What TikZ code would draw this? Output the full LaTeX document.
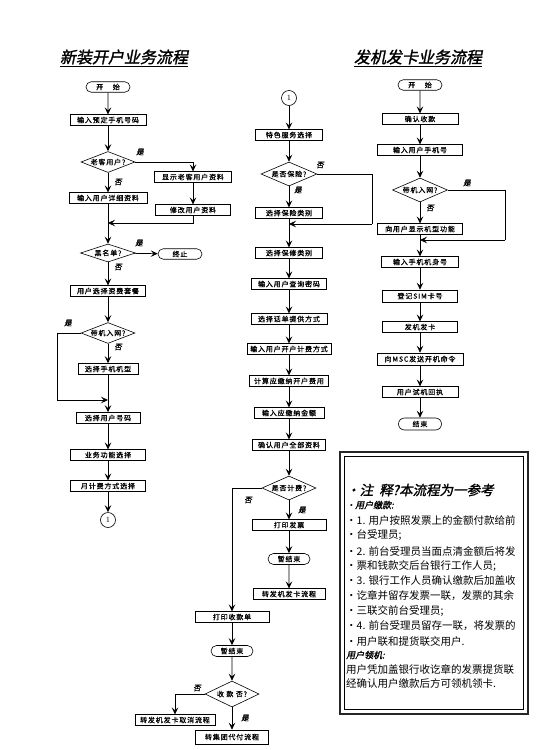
\documentclass[tikz,border=0pt]{standalone}
\usepackage{fontspec}
\newfontfamily\cjk{Noto Sans CJK SC}
\newfontfamily\cjkb[LetterSpace=12,FakeBold=0.8]{Noto Sans CJK SC}
\newfontfamily\cjkt[FakeSlant=0.2,FakeBold=1.5]{Noto Sans CJK SC}
\usetikzlibrary{shapes.geometric,shapes.misc,arrows.meta}
\begin{document}
\begin{tikzpicture}[x=1pt,y=-1pt,
  bx/.style={draw, line width=0.6pt, minimum height=10.5pt, inner sep=0pt, font=\cjkb\fontsize{7}{8}\selectfont},
  term/.style={draw, line width=0.6pt, rounded rectangle, minimum height=10.5pt, inner sep=0pt, font=\cjkb\fontsize{7}{8}\selectfont},
  dec/.style={draw, line width=0.6pt, diamond, aspect=2.4, inner sep=0pt, font=\cjkb\fontsize{7}{8}\selectfont},
  conn/.style={draw, circle, line width=0.6pt, minimum size=15pt, inner sep=0pt, font=\fontsize{8}{9}\selectfont},
  arr/.style={line width=0.7pt, -{Stealth[length=7pt,width=6.5pt,inset=2.8pt]}},
  ln/.style={line width=0.7pt},
  lbl/.style={font=\cjkt\fontsize{7.5}{8}\selectfont, inner sep=0pt},
  ttl/.style={font=\cjkt\fontsize{16}{18}\selectfont, inner sep=0pt},
  nt/.style={anchor=west, inner sep=0pt, font=\cjk\fontsize{10.5}{12}\selectfont},
]
\useasboundingbox (0,0) rectangle (555,750);
\fill[white] (0,0) rectangle (555,750);

% titles
\node[ttl] (t1) at (124,57) {新装开户业务流程};
\draw[ln] ([yshift=-2pt]t1.south west) -- ([yshift=-2pt]t1.south east);
\node[ttl] (t2) at (418,57) {发机发卡业务流程};
\draw[ln] ([yshift=-2pt]t2.south west) -- ([yshift=-2pt]t2.south east);

% ---------------- left column ----------------
\node[term, minimum width=44pt] (L0) at (108,87) {开\ \ \ \ 始};
\node[bx, minimum width=76pt] (L1) at (108,120) {输入预定手机号码};
\node[dec, minimum width=54pt, minimum height=20pt] (Ld1) at (108,162) {老客用户?};
\node[bx, minimum width=77pt] (L2) at (193,177) {显示老客用户资料};
\node[bx, minimum width=75pt] (L3) at (193,210) {修改用户资料};
\node[bx, minimum width=78pt] (L4) at (108,198) {输入用户详细资料};
\node[dec, minimum width=55pt, minimum height=18pt] (Ld2) at (108,253) {黑名单?};
\node[term, minimum width=44pt] (Lend) at (180,254) {终止};
\node[bx, minimum width=75pt] (L5) at (108,291) {用户选择资费套餐};
\node[dec, minimum width=54pt, minimum height=20pt] (Ld3) at (108,333) {带机入网?};
\node[bx, minimum width=60pt, minimum height=11pt] (L6) at (108,369) {选择手机机型};
\node[bx, minimum width=64pt, minimum height=11pt] (L7) at (108,418) {选择用户号码};
\node[bx, minimum width=75pt] (L8) at (108,455) {业务功能选择};
\node[bx, minimum width=75pt] (L9) at (108,486) {月计费方式选择};
\node[conn] (Lc) at (108,520) {1};

\coordinate (La) at (108,223);
\coordinate (Lb) at (108,400);
\draw[arr] (L0) -- (L1);
\draw[arr] (L1) -- (Ld1);
\draw[arr] (Ld1.east) -| (L2.north);
\draw[arr] (L2) -- (L3);
\draw[arr] (L3.south) |- (La);
\draw[arr] (Ld1) -- (L4);
\draw[arr] (L4) -- (Ld2);
\draw[arr] (Ld2) -- (Lend);
\draw[arr] (Ld2) -- (L5);
\draw[arr] (L5) -- (Ld3);
\draw[arr] (Ld3) -- (L6);
\draw[arr] (Ld3.west) -- (57,333) |- (Lb);
\draw[arr] (L6) -- (L7);
\draw[arr] (L7) -- (L8);
\draw[arr] (L8) -- (L9);
\draw[arr] (L9) -- (Lc);
\node[lbl] (l1) at (140,152) {是};
\node[lbl] (l2) at (118,182) {否};
\node[lbl] (l3) at (139,243) {是};
\node[lbl] (l4) at (118,267) {否};
\node[lbl] (l5) at (68,323) {是};
\node[lbl] (l6) at (118,347) {否};

% ---------------- middle column ----------------
\node[conn] (Mc) at (289,98) {1};
\node[bx, minimum width=67pt] (M1) at (289,135) {特色服务选择};
\node[dec, minimum width=56pt, minimum height=24pt] (Md1) at (289,174) {是否保险?};
\node[bx, minimum width=67pt] (M2) at (289,213) {选择保险类别};
\node[bx, minimum width=67pt] (M3) at (289,253) {选择保修类别};
\node[bx, minimum width=75pt] (M4) at (289,284) {输入用户查询密码};
\node[bx, minimum width=76pt] (M5) at (289,319) {选择话单提供方式};
\node[bx, minimum width=84pt] (M6) at (289,349) {输入用户开户计费方式};
\node[bx, minimum width=79pt] (M7) at (289,381) {计算应缴纳开户费用};
\node[bx, minimum width=70pt] (M8) at (289,413) {输入应缴纳金额};
\node[bx, minimum width=73pt] (M9) at (289,445) {确认用户全部资料};
\node[dec, minimum width=54pt, minimum height=24pt] (Md2) at (289,488) {是否计费?};
\node[bx, minimum width=74pt] (M10) at (289,525) {打印发票};
\node[term, minimum width=42pt, minimum height=11pt] (M11) at (289,559) {暂结束};
\node[bx, minimum width=72pt] (M12) at (289,594) {转发机发卡流程};
\node[bx, minimum width=74pt] (M13) at (232,617) {打印收款单};
\node[term, minimum width=42pt, minimum height=11pt] (M14) at (232,651) {暂结束};
\node[dec, minimum width=54pt, minimum height=26pt] (Md3) at (232,694) {收\ 款\ 否?};
\node[bx, minimum width=80pt] (M15) at (175,720) {转发机发卡取消流程};
\node[bx, minimum width=73pt, minimum height=14pt] (M16) at (232,737) {转集团代付流程};

\coordinate (Ma) at (289,224);
\draw[arr] (Mc) -- (M1);
\draw[arr] (M1) -- (Md1);
\draw[arr] (Md1) -- (M2);
\draw[ln] (Md1.east) -- (372,174) -- (372,224);
\draw[arr] (372,224) -- (Ma);
\draw[arr] (M2) -- (M3);
\draw[arr] (M3) -- (M4);
\draw[arr] (M4) -- (M5);
\draw[arr] (M5) -- (M6);
\draw[arr] (M6) -- (M7);
\draw[arr] (M7) -- (M8);
\draw[arr] (M8) -- (M9);
\draw[arr] (M9) -- (Md2);
\draw[arr] (Md2) -- (M10);
\draw[arr] (Md2.west) -| (M13.north);
\draw[arr] (M10) -- (M11);
\draw[arr] (M11) -- (M12);
\draw[arr] (M13) -- (M14);
\draw[arr] (M14) -- (Md3);
\draw[arr] (Md3.west) -| (M15.north);
\draw[arr] (Md3) -- (M16);
\node[lbl] (m1) at (320,165) {否};
\node[lbl] (m2) at (298,190) {是};
\node[lbl] (m3) at (248,500) {否};
\node[lbl] (m4) at (302,510) {是};
\node[lbl] (m5) at (197,688) {否};
\node[lbl] (m6) at (245,718) {是};

% ---------------- right column ----------------
\node[term, minimum width=44pt] (R0) at (420,85) {开\ \ \ \ 始};
\node[bx, minimum width=76pt] (R1) at (420,119) {确认收款};
\node[bx, minimum width=85pt] (R2) at (420,150) {输入用户手机号};
\node[dec, minimum width=55pt, minimum height=24pt] (Rd) at (420,190) {带机入网?};
\node[bx, minimum width=85pt] (R3) at (420,229) {向用户显示机型功能};
\node[bx, minimum width=77pt] (R4) at (420,262) {输入手机机身号};
\node[bx, minimum width=75pt, minimum height=12pt] (R5) at (420,296) {登记SIM卡号};
\node[bx, minimum width=75pt] (R6) at (420,327) {发机发卡};
\node[bx, minimum width=86pt, minimum height=12pt] (R7) at (420,359) {向MSC发送开机命令};
\node[bx, minimum width=76pt] (R8) at (420,392) {用户试机回执};
\node[term, minimum width=43pt, minimum height=12pt] (Rend) at (420,424) {结束};

\coordinate (Ra) at (420,240);
\draw[arr] (R0) -- (R1);
\draw[arr] (R1) -- (R2);
\draw[arr] (R2) -- (Rd);
\draw[arr] (Rd) -- (R3);
\draw[ln] (Rd.east) -- (505,190) -- (505,240);
\draw[arr] (505,240) -- (Ra);
\draw[arr] (R3) -- (R4);
\draw[arr] (R4) -- (R5);
\draw[arr] (R5) -- (R6);
\draw[arr] (R6) -- (R7);
\draw[arr] (R7) -- (R8);
\draw[arr] (R8) -- (Rend);
\node[lbl] (r1) at (467,183) {是};
\node[lbl] (r2) at (430,208) {否};

% ---------------- note box ----------------
\draw[line width=1.6pt, draw=black!85] (340,452) rectangle (528,714);
\draw[line width=0.7pt] (344.5,456.5) rectangle (523.5,709.5);
\node[nt, font=\cjkt\fontsize{13.5}{15}\selectfont] (n0) at (346,490) {•注\ \ 释?本流程为一参考};
\node[nt, font=\cjkt\fontsize{9}{10}\selectfont] (n1) at (346,505) {·用户缴款:};
\node[nt] (n2) at (346,520) {·1. 用户按照发票上的金额付款给前};
\node[nt] (n3) at (346,535) {·台受理员;};
\node[nt] (n4) at (346,551) {·2. 前台受理员当面点清金额后将发};
\node[nt] (n5) at (346,566) {·票和钱款交后台银行工作人员;};
\node[nt] (n6) at (346,581) {·3. 银行工作人员确认缴款后加盖收};
\node[nt] (n7) at (346,596) {·讫章并留存发票一联，发票的其余};
\node[nt] (n8) at (346,611) {·三联交前台受理员;};
\node[nt] (n9) at (346,626) {·4. 前台受理员留存一联，将发票的};
\node[nt] (n10) at (346,641) {·用户联和提货联交用户.};
\node[nt, font=\cjkt\fontsize{9}{10}\selectfont] (n11) at (346,655) {用户领机:};
\node[nt] (n12) at (346,669) {用户凭加盖银行收讫章的发票提货联};
\node[nt] (n13) at (346,684) {经确认用户缴款后方可领机领卡.};
\end{tikzpicture}
\end{document}
